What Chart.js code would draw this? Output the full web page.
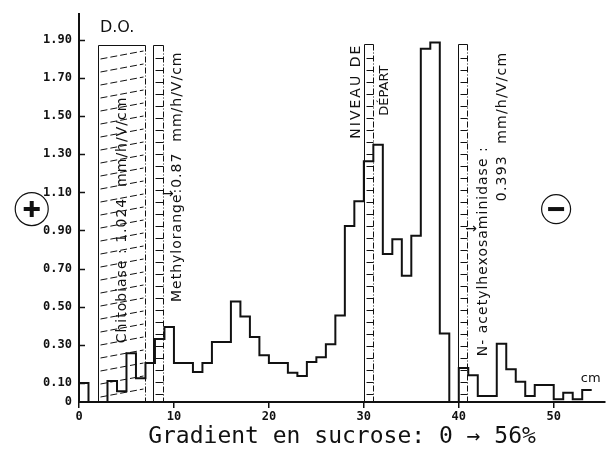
<!DOCTYPE html>
<html>
<head>
<meta charset="utf-8">
<title>D.O. - Gradient en sucrose</title>
<script src="https://cdn.jsdelivr.net/npm/chart.js@4.4.1/dist/chart.umd.min.js"></script>
<style>
  html, body { margin: 0; padding: 0; background: #fff; }
  #chart { display: block; }
</style>
</head>
<body>
<canvas id="chart" width="608" height="450"></canvas>
<script>
// bord gauche de chaque fraction (cm) et D.O. lue pour cette fraction
const fractionStart = [0, 1, 3, 4, 5, 6, 7, 8, 9, 10, 12, 13, 14, 16, 17, 18, 19, 20, 22, 23,
  24, 25, 26, 27, 28, 29, 30, 31, 32, 33, 34, 35, 36, 37, 38, 39, 40, 41, 42, 44,
  45, 46, 47, 48, 50, 51, 52, 53, 54];
const densiteOptique = [0.10, 0, 0.11, 0.057, 0.256, 0.125, 0.205, 0.33, 0.393, 0.204, 0.157, 0.204, 0.315, 0.527, 0.449, 0.341, 0.245, 0.204, 0.153, 0.136,
  0.21, 0.235, 0.303, 0.454, 0.924, 1.054, 1.263, 1.35, 0.776, 0.854, 0.663, 0.872, 1.854, 1.886, 0.359, 0, 0.179, 0.141, 0.031, 0.306,
  0.172, 0.106, 0.031, 0.089, 0.014, 0.049, 0.014, 0.063, 0.063];

// graduations
const xTicks = [0, 10, 20, 30, 40, 50];
const yTicks = [0, 0.1, 0.3, 0.5, 0.7, 0.9, 1.1, 1.3, 1.5, 1.7, 1.9];

// bandes des marqueurs (chitobiase, méthylorange, niveau de départ, N-acétylhexosaminidase)
const bandeDebut = [2.0, 7.8, 30.0, 39.9];
const bandeFin = [7.0, 8.85, 31.0, 40.9];
const bandeHaut = [1.875, 1.875, 1.88, 1.88];

// textes posés sur le graphique (ancres en cm / D.O.)
const notes = [
  { t: 'D.O.', x: 2.2, y: 1.94, size: 16, rot: false },
  { t: 'Chitobiase : 1.024  mm/h/V/cm', x: 4.55, y: 0.955, size: 14, rot: true, sp: 1 },
  { t: 'Methylorange:0.87  mm/h/V/cm', x: 10.41, y: 1.182, size: 14, rot: true, sp: 1 },
  { t: 'NIVEAU DE', x: 29.2, y: 1.631, size: 14, rot: true, sp: 2 },
  { t: 'DÉPART', x: 32.18, y: 1.634, size: 13, rot: true, sp: 0 },
  { t: 'N- acetylhexosaminidase :', x: 42.6, y: 0.791, size: 14, rot: true, sp: 1 },
  { t: '0.393  mm/h/V/cm', x: 44.6, y: 1.446, size: 14, rot: true, sp: 1.2 },
  { t: '→', x: 9.36, y: 1.09, size: 14, rot: false, center: true },
  { t: '→', x: 41.3, y: 0.908, size: 14, rot: false, center: true },
  { t: 'cm', x: 53.9, y: 0.125, size: 13, rot: false, center: true }
];

const INK = '#111';

const decorPlugin = {
  id: 'decor',
  beforeDatasetsDraw(chart) {
    const { ctx, scales: { x, y } } = chart;
    ctx.save();
    ctx.strokeStyle = INK;
    ctx.lineWidth = 1;
    const yb = y.getPixelForValue(0);
    bandeDebut.forEach((d, i) => {
      const x0 = Math.round(x.getPixelForValue(d)) + 0.5;
      const x1 = Math.round(x.getPixelForValue(bandeFin[i])) + 0.5;
      const yt = Math.round(y.getPixelForValue(bandeHaut[i])) + 0.5;
      ctx.setLineDash([]);
      ctx.beginPath();
      ctx.moveTo(x0, yb);
      ctx.lineTo(x0, yt);
      ctx.lineTo(x1, yt);
      ctx.stroke();
      ctx.setLineDash([6, 2, 1, 2]);
      ctx.beginPath();
      ctx.moveTo(x1, yt);
      ctx.lineTo(x1, yb);
      ctx.stroke();
      if (i === 0) {
        // hachures obliques en tirets
        ctx.setLineDash([7, 3]);
        for (let yy = yb - 5; yy - 8 > yt + 2; yy -= 13) {
          ctx.beginPath();
          ctx.moveTo(x0 + 2, yy);
          ctx.lineTo(x1 - 2, yy - 8);
          ctx.stroke();
        }
      } else {
        // échelons
        ctx.setLineDash([]);
        for (let yy = yb - 8; yy > yt + 5; yy -= 12) {
          const py = Math.round(yy) + 0.5;
          ctx.beginPath();
          ctx.moveTo(x0 + 2, py);
          ctx.lineTo(x1, py);
          ctx.stroke();
        }
      }
    });
    ctx.restore();
  },
  afterDraw(chart) {
    const { ctx, chartArea, scales: { x, y } } = chart;
    ctx.save();
    ctx.strokeStyle = INK;
    ctx.fillStyle = INK;

    // graduations de l'axe vertical, vers l'intérieur
    ctx.lineWidth = 1.5;
    yTicks.slice(1).forEach(v => {
      const py = Math.round(y.getPixelForValue(v)) + 0.5;
      ctx.beginPath();
      ctx.moveTo(chartArea.left, py);
      ctx.lineTo(chartArea.left + 6, py);
      ctx.stroke();
    });

    // textes
    notes.forEach(n => {
      const px = x.getPixelForValue(n.x);
      const py = y.getPixelForValue(n.y);
      ctx.font = n.size + 'px "DejaVu Sans"';
      ctx.letterSpacing = (n.sp || 0) + 'px';
      ctx.save();
      ctx.translate(px, py);
      if (n.rot) {
        ctx.rotate(-Math.PI / 2);
        ctx.textAlign = 'center';
        ctx.textBaseline = 'middle';
      } else if (n.center) {
        ctx.textAlign = 'center';
        ctx.textBaseline = 'middle';
      } else {
        ctx.textAlign = 'left';
        ctx.textBaseline = 'alphabetic';
      }
      ctx.fillText(n.t, 0, 0);
      ctx.restore();
    });
    ctx.letterSpacing = '0px';

    // pôles (+) et (−)
    const poles = [{ x: -4.98, y: 1.0125, plus: true }, { x: 50.25, y: 1.0125, plus: false }];
    poles.forEach(p => {
      const cx = x.getPixelForValue(p.x);
      const cy = y.getPixelForValue(p.y);
      ctx.lineWidth = 1.2;
      ctx.beginPath();
      ctx.arc(cx, cy, p.plus ? 16.5 : 14.5, 0, Math.PI * 2);
      ctx.stroke();
      ctx.lineWidth = 4;
      ctx.beginPath();
      ctx.moveTo(cx - 8, cy);
      ctx.lineTo(cx + 8, cy);
      if (p.plus) {
        ctx.moveTo(cx, cy - 8);
        ctx.lineTo(cx, cy + 8);
      }
      ctx.stroke();
    });
    ctx.restore();
  }
};

const tickFont = { family: 'DejaVu Sans Mono', size: 12, weight: 'bold' };

new Chart(document.getElementById('chart'), {
  type: 'line',
  data: {
    datasets: [{
      data: fractionStart.map((v, i) => ({ x: v, y: densiteOptique[i] })),
      stepped: 'before',
      borderColor: INK,
      borderWidth: 2,
      pointRadius: 0,
      fill: false,
      tension: 0
    }]
  },
  options: {
    responsive: false,
    animation: false,
    layout: { padding: { top: 12, right: 3, left: 0, bottom: 0 } },
    plugins: { legend: { display: false }, tooltip: { enabled: false } },
    scales: {
      x: {
        type: 'linear',
        min: 0,
        max: 55.4,
        afterFit: s => { s.height = 48; },
        afterBuildTicks: s => { s.ticks = xTicks.map(v => ({ value: v })); },
        grid: { drawOnChartArea: false, drawTicks: true, tickLength: 6, color: INK, lineWidth: 1.5 },
        border: { display: true, color: INK, width: 2 },
        ticks: { font: tickFont, color: INK, padding: 2, maxRotation: 0, autoSkip: false },
        title: {
          display: true,
          text: 'Gradient en sucrose: 0 → 56%',
          font: { family: 'DejaVu Sans Mono', size: 23, lineHeight: 1.1 },
          color: INK,
          padding: 0
        }
      },
      y: {
        min: 0,
        max: 2.035,
        afterFit: s => { s.width = 79; },
        afterBuildTicks: s => { s.ticks = yTicks.map(v => ({ value: v })); },
        grid: { drawOnChartArea: false, drawTicks: false },
        border: { display: true, color: INK, width: 2 },
        ticks: {
          font: tickFont,
          color: INK,
          padding: 7,
          autoSkip: false,
          callback: v => v === 0 ? '0' : v.toFixed(2)
        }
      }
    }
  },
  plugins: [decorPlugin]
});
</script>
</body>
</html>
